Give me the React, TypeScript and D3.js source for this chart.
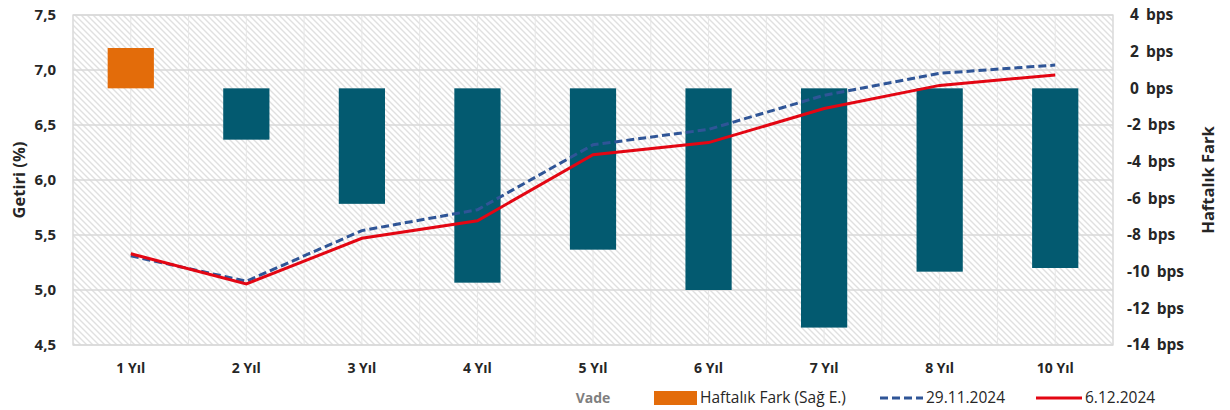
import * as d3 from "d3";

const categories = ["1 Yıl", "2 Yıl", "3 Yıl", "4 Yıl", "5 Yıl", "6 Yıl", "7 Yıl", "8 Yıl", "10 Yıl"];
const weeklyDiff = [2.2, -2.8, -6.3, -10.6, -8.8, -11.0, -13.05, -10.0, -9.8];
const yield2911 = [5.31, 5.08, 5.54, 5.73, 6.32, 6.46, 6.77, 6.97, 7.045];
const yield0612 = [5.33, 5.055, 5.47, 5.63, 6.23, 6.34, 6.65, 6.86, 6.955];
const leftTicks = [4.5, 5.0, 5.5, 6.0, 6.5, 7.0, 7.5];
const rightTicks = [4, 2, 0, -2, -4, -6, -8, -10, -12, -14];

const W = 1230;
const H = 410;
const m = { top: 15, right: 117, bottom: 65, left: 73 };
const font = "'Open Sans', 'Noto Sans', sans-serif";
const txt = "#262626";

const App = () => {
  const x = d3
    .scaleBand()
    .domain(categories)
    .range([m.left, W - m.right])
    .paddingInner(0.6)
    .paddingOuter(0.3);
  const yL = d3.scaleLinear().domain([4.5, 7.5]).range([H - m.bottom, m.top]);
  const yR = d3.scaleLinear().domain([-14, 4]).range([H - m.bottom, m.top]);
  const cx = (c: string) => (x(c) as number) + x.bandwidth() / 2;
  const step = x.step();

  const line = d3
    .line<number>()
    .x((_, i) => cx(categories[i]))
    .y((d) => yL(d));

  const vgrid = d3.range(0, categories.length * 2 + 1).map((i) => m.left + (i * step) / 2);

  return (
    <svg
      width={W}
      height={H}
      style={{ position: "absolute", left: 0, top: 0, background: "#fff" }}
      fontFamily={font}
    >
      <defs>
        <pattern id="hatch" patternUnits="userSpaceOnUse" width="6" height="6">
          <path d="M-1,-1 L7,7 M-1,5 L1,7 M5,-1 L7,1" stroke="#e0e0e0" strokeWidth="1.4" />
        </pattern>
      </defs>

      <rect
        x={m.left}
        y={m.top}
        width={W - m.right - m.left}
        height={H - m.bottom - m.top}
        fill="url(#hatch)"
      />
      {vgrid.map((v, i) => (
        <line key={"v" + i} x1={v} x2={v} y1={m.top} y2={H - m.bottom} stroke="#e6e6e6" strokeWidth={1} />
      ))}
      {leftTicks.map((t) => (
        <line key={"h" + t} x1={m.left} x2={W - m.right} y1={yL(t)} y2={yL(t)} stroke="#d9d9d9" strokeWidth={1.3} />
      ))}
      <rect
        x={m.left}
        y={m.top}
        width={W - m.right - m.left}
        height={H - m.bottom - m.top}
        fill="none"
        stroke="#d9d9d9"
        strokeWidth={1.3}
      />

      {/* bars on the right axis */}
      {weeklyDiff.map((d, i) => (
        <rect
          key={"b" + i}
          x={x(categories[i])}
          y={yR(Math.max(0, d))}
          width={x.bandwidth()}
          height={Math.abs(yR(d) - yR(0))}
          fill={d > 0 ? "#E36C0A" : "#035A70"}
        />
      ))}

      <path d={line(yield2911) || ""} fill="none" stroke="#2F5597" strokeWidth={3} strokeDasharray="8 4" />
      <path d={line(yield0612) || ""} fill="none" stroke="#E30613" strokeWidth={3} />

      {/* left axis */}
      {leftTicks.map((t) => (
        <text key={"lt" + t} x={56} y={yL(t)} dy="0.35em" textAnchor="end" fontSize={15} fontWeight={700} fill={txt}>
          {d3.format(".1f")(t).replace(".", ",")}
        </text>
      ))}
      <text
        transform={`translate(19,${(m.top + H - m.bottom) / 2}) rotate(-90)`}
        textAnchor="middle"
        dy="0.35em"
        fontSize={16.5}
        fontWeight={700}
        fill={txt}
      >
        Getiri (%)
      </text>

      {/* right axis */}
      {rightTicks.map((t) => (
        <text key={"rt" + t} x={t < 0 ? 1127 : 1130} y={yR(t)} dy="0.35em" fontSize={15.5} fontWeight={700} fill={txt}>
          {t}
          <tspan dx={7}>bps</tspan>
        </text>
      ))}
      <text
        transform={`translate(1208,${(m.top + H - m.bottom) / 2}) rotate(-90)`}
        textAnchor="middle"
        dy="0.35em"
        fontSize={16.5}
        fontWeight={700}
        fill={txt}
      >
        Haftalık Fark
      </text>

      {/* x axis */}
      {categories.map((c) => (
        <text key={"xl" + c} x={cx(c)} y={368} dy="0.35em" textAnchor="middle" fontSize={14} fontWeight={700} fill={txt}>
          {c}
        </text>
      ))}
      <text x={593} y={398} dy="0.35em" textAnchor="middle" fontSize={14} fontWeight={700} fill="#7f7f7f">
        Vade
      </text>

      {/* legend */}
      <rect x={654} y={391} width={43} height={14} fill="#E36C0A" />
      <text x={700} y={398} dy="0.35em" fontSize={15.5} fill={txt}>
        Haftalık Fark (Sağ E.)
      </text>
      <line x1={880} x2={923} y1={398} y2={398} stroke="#2F5597" strokeWidth={3} strokeDasharray="8 4" />
      <text x={926} y={398} dy="0.35em" fontSize={15.5} fill={txt}>
        29.11.2024
      </text>
      <line x1={1036} x2={1082} y1={398} y2={398} stroke="#E30613" strokeWidth={3} />
      <text x={1085} y={398} dy="0.35em" fontSize={15.5} fill={txt}>
        6.12.2024
      </text>
    </svg>
  );
};

export default App;
